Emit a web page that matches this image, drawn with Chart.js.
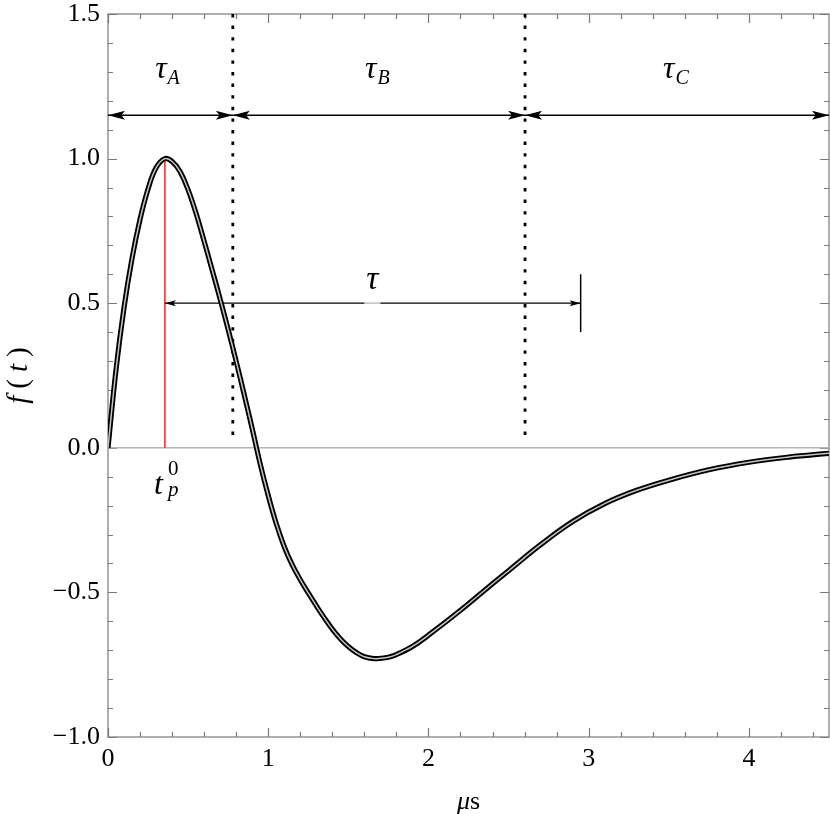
<!DOCTYPE html>
<html>
<head>
<meta charset="utf-8">
<script src="https://cdn.jsdelivr.net/npm/chart.js@4.4.0/dist/chart.umd.min.js"></script>
<style>
    html, body { margin: 0; padding: 0; background: #fff; }
    #wrap { width: 830px; height: 814px; }
</style>
</head>
<body>
<div id="wrap"><canvas id="pulseChart" width="830" height="814"></canvas></div>
<script>
// pulse shape (time in µs)
const timeValues  = [0, 0.05, 0.1, 0.15, 0.2, 0.25, 0.3, 0.355, 0.4, 0.45, 0.5, 0.55, 0.6, 0.65, 0.7, 0.75, 0.8, 0.85, 0.9, 0.95, 1.0, 1.05, 1.1, 1.15, 1.2, 1.25, 1.3, 1.35, 1.4, 1.45, 1.5, 1.55, 1.6, 1.66, 1.7, 1.75, 1.8, 1.9, 2.0, 2.2, 2.4, 2.5, 2.7, 2.9, 3.1, 3.3, 3.5, 3.75, 4.0, 4.25, 4.5];
const pulseValues = [0, 0.27, 0.485, 0.655, 0.79, 0.895, 0.968, 1.0, 0.99, 0.955, 0.892, 0.81, 0.714, 0.615, 0.514, 0.409, 0.299, 0.184, 0.066, -0.056, -0.165, -0.262, -0.342, -0.405, -0.456, -0.502, -0.546, -0.588, -0.627, -0.66, -0.687, -0.708, -0.7225, -0.729, -0.728, -0.724, -0.715, -0.687, -0.648, -0.562, -0.47, -0.425, -0.335, -0.255, -0.193, -0.147, -0.112, -0.076, -0.05, -0.032, -0.019];

// axes
const xTickValues = [0, 1, 2, 3, 4];
const yTickValues = [-1.0, -0.5, 0.0, 0.5, 1.0, 1.5];

// annotations
const peakTime = 0.355;
const peakValue = 1.0;
const dividerTimes = [0.779, 2.603];
const dividerTop = 1.5;
const dividerBottom = 0.02;
const spanEdges = [0, 0.779, 2.603, 4.5];
const spanLevel = 1.15;
const spanSubs = ['A', 'B', 'C'];
const spanLabelTimes = [0.33, 1.64, 3.50];
const spanLabelLevel = 1.28;
const tauLevel = 0.5;
const tauEnd = 2.95;
const tauBar = [0.4, 0.6];
const tauLabelTime = 1.65;
const tauLabelLevel = 0.55;

const serif = '"Liberation Serif", "Times New Roman", serif';

const pts = (xs, ys) => xs.map((v, i) => ({ x: v, y: ys[i] }));

function arrowHead(ctx, x, y, dir, len, half) {
    ctx.beginPath();
    ctx.moveTo(x, y);
    ctx.lineTo(x - dir * len, y - half);
    ctx.lineTo(x - dir * len * 0.78, y);
    ctx.lineTo(x - dir * len, y + half);
    ctx.closePath();
    ctx.fill();
}

// frame with inward ticks on all four sides (major + minor)
const frameTicks = {
    id: 'frameTicks',
    beforeDatasetsDraw(chart) {
        const { ctx, chartArea: a, scales: { x, y } } = chart;
        ctx.save();
        ctx.strokeStyle = '#7a7a7a';
        ctx.lineWidth = 1.2;
        ctx.strokeRect(a.left, a.top, a.right - a.left, a.bottom - a.top);
        ctx.beginPath();
        for (let k = 0; k <= 22; k++) {
            const v = k * 0.2;
            const len = (k % 5 === 0) ? 9 : 5;
            const px = Math.round(x.getPixelForValue(v)) + 0.5;
            ctx.moveTo(px, a.bottom); ctx.lineTo(px, a.bottom - len);
            ctx.moveTo(px, a.top); ctx.lineTo(px, a.top + len);
        }
        for (let k = 0; k <= 25; k++) {
            const v = -1 + k * 0.1;
            const len = (k % 5 === 0) ? 9 : 5;
            const py = Math.round(y.getPixelForValue(v)) + 0.5;
            ctx.moveTo(a.left, py); ctx.lineTo(a.left + len, py);
            ctx.moveTo(a.right, py); ctx.lineTo(a.right - len, py);
        }
        ctx.stroke();
        ctx.restore();
    }
};

// arrowheads, greek labels and axis titles
const labels = {
    id: 'labels',
    afterDatasetsDraw(chart) {
        const { ctx, chartArea: a, scales: { x, y } } = chart;
        ctx.save();
        ctx.fillStyle = '#000';

        // span arrows
        const sy = y.getPixelForValue(spanLevel);
        for (let i = 0; i < spanEdges.length - 1; i++) {
            arrowHead(ctx, x.getPixelForValue(spanEdges[i]), sy, -1, 17, 4.5);
            arrowHead(ctx, x.getPixelForValue(spanEdges[i + 1]), sy, 1, 17, 4.5);
        }

        // tau arrow
        const ty = y.getPixelForValue(tauLevel);
        arrowHead(ctx, x.getPixelForValue(peakTime), ty, -1, 11, 3);
        arrowHead(ctx, x.getPixelForValue(tauEnd), ty, 1, 11, 3);

        ctx.textBaseline = 'alphabetic';

        // tau_A, tau_B, tau_C
        spanSubs.forEach((sub, i) => {
            const cx = x.getPixelForValue(spanLabelTimes[i]);
            const by = y.getPixelForValue(spanLabelLevel);
            ctx.font = 'italic 32px ' + serif;
            const w = ctx.measureText('τ').width;
            ctx.textAlign = 'left';
            ctx.fillText('τ', cx - w / 2, by);
            ctx.font = 'italic 20px ' + serif;
            ctx.fillText(sub, cx + w / 2 + 1, by + 6);
        });

        // tau label over the arrow
        ctx.font = 'italic 34px ' + serif;
        const tw = ctx.measureText('τ').width;
        const tcx = x.getPixelForValue(tauLabelTime);
        const tby = y.getPixelForValue(tauLabelLevel);
        ctx.fillStyle = 'rgba(255,255,255,0.7)';
        ctx.fillRect(tcx - tw / 2 - 2, ty - 3, tw + 4, 6);
        ctx.fillStyle = '#000';
        ctx.textAlign = 'center';
        ctx.fillText('τ', tcx, tby);

        // t_p^0
        const px = x.getPixelForValue(peakTime);
        const zy = y.getPixelForValue(0);
        ctx.textAlign = 'left';
        ctx.font = 'italic 32px ' + serif;
        ctx.fillText('t', px - 11, zy + 46);
        ctx.font = '21px ' + serif;
        ctx.fillText('0', px + 3, zy + 27);
        ctx.font = 'italic 21px ' + serif;
        ctx.fillText('p', px + 3, zy + 48);

        // x title: µs
        const mx = (a.left + a.right) / 2;
        ctx.font = 'italic 26px ' + serif;
        const mw = ctx.measureText('μ').width;
        ctx.font = '26px ' + serif;
        const sw = ctx.measureText('s').width;
        const sx = mx - (mw + sw) / 2;
        ctx.font = 'italic 26px ' + serif;
        ctx.fillText('μ', sx, 809);
        ctx.font = '26px ' + serif;
        ctx.fillText('s', sx + mw, 809);

        // y title: f(t), rotated
        ctx.translate(27, (a.top + a.bottom) / 2);
        ctx.rotate(-Math.PI / 2);
        const parts = [['f', 'italic'], ['(', ''], ['t', 'italic'], [')', '']];
        const gap = 7;
        let total = 0;
        parts.forEach(p => { ctx.font = p[1] + ' 29px ' + serif; total += ctx.measureText(p[0]).width + gap; });
        total -= gap;
        let cx = -total / 2;
        parts.forEach(p => {
            ctx.font = p[1] + ' 29px ' + serif;
            ctx.fillText(p[0], cx, 0);
            cx += ctx.measureText(p[0]).width + gap;
        });
        ctx.restore();
    }
};

const datasets = [
    {   // zero line
        data: [{ x: 0, y: 0 }, { x: 4.5, y: 0 }],
        borderColor: '#b4b4b4', borderWidth: 1.6, order: 10
    },
    ...dividerTimes.map(t => ({
        data: [{ x: t, y: dividerTop }, { x: t, y: dividerBottom }],
        borderColor: '#000', borderWidth: 2.8, borderDash: [3.4, 8.2], order: 9
    })),
    {   // peak marker
        data: [{ x: peakTime, y: 0 }, { x: peakTime, y: peakValue }],
        borderColor: '#ff2a2a', borderWidth: 1.6, order: 8
    },
    {   // spans
        data: spanEdges.map(t => ({ x: t, y: spanLevel })),
        borderColor: '#000', borderWidth: 1.6, order: 7
    },
    {   // tau arrow
        data: [{ x: peakTime, y: tauLevel }, { x: tauEnd, y: tauLevel }],
        borderColor: '#000', borderWidth: 1.3, order: 6
    },
    {
        data: [{ x: tauEnd, y: tauBar[0] }, { x: tauEnd, y: tauBar[1] }],
        borderColor: '#000', borderWidth: 1.5, order: 6
    },
    {   // pulse outline
        data: pts(timeValues, pulseValues),
        borderColor: '#000', borderWidth: 5.2, tension: 0.4, order: 2
    },
    {   // pulse inner stroke
        data: pts(timeValues, pulseValues),
        borderColor: '#c4c4c4', borderWidth: 1.5, tension: 0.4, order: 1
    }
];

new Chart(document.getElementById('pulseChart'), {
    type: 'line',
    data: { datasets: datasets },
    options: {
        responsive: false,
        devicePixelRatio: 1,
        animation: false,
        layout: { padding: { top: 14, right: 1, left: 0, bottom: 0 } },
        elements: { point: { radius: 0 }, line: { fill: false } },
        plugins: { legend: { display: false }, tooltip: { enabled: false } },
        scales: {
            x: {
                type: 'linear', min: 0, max: 4.5,
                afterBuildTicks: s => { s.ticks = xTickValues.map(v => ({ value: v })); },
                afterFit: s => { s.height = 77; s.paddingLeft = 0; s.paddingRight = 0; },
                grid: { display: false, drawTicks: false },
                border: { display: false },
                ticks: {
                    color: '#000', padding: 7, maxRotation: 0, autoSkip: false,
                    font: { family: serif, size: 26 },
                    callback: v => String(v)
                }
            },
            y: {
                type: 'linear', min: -1, max: 1.5,
                afterBuildTicks: s => { s.ticks = yTickValues.map(v => ({ value: v })); },
                afterFit: s => { s.width = 108; s.paddingTop = 0; s.paddingBottom = 0; },
                grid: { display: false, drawTicks: false },
                border: { display: false },
                ticks: {
                    color: '#000', padding: 8, autoSkip: false,
                    font: { family: serif, size: 26 },
                    callback: v => (v < 0 ? '\u2212' : '') + Math.abs(v).toFixed(1)
                }
            }
        }
    },
    plugins: [frameTicks, labels]
});
</script>
</body>
</html>
